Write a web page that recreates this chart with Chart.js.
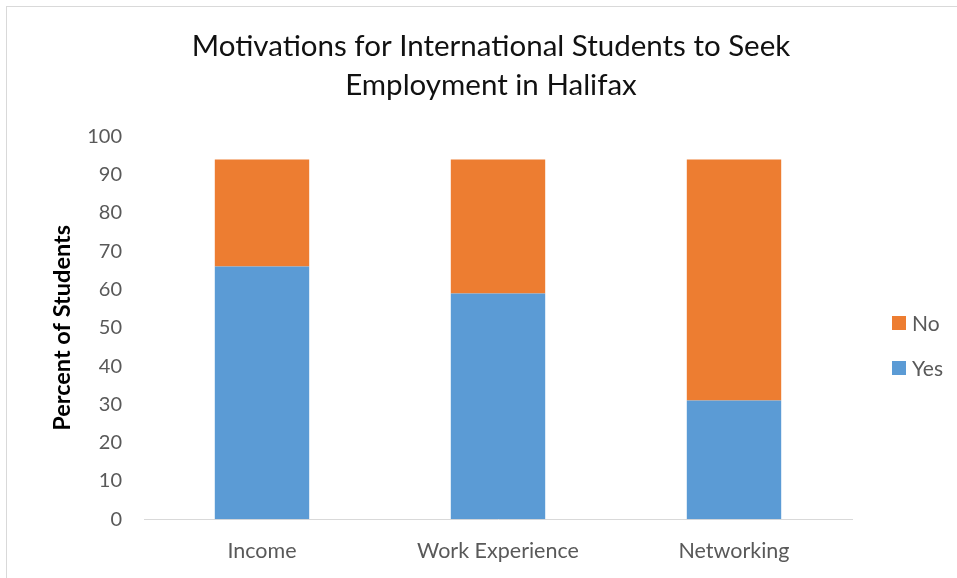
<!DOCTYPE html>
<html>
<head>
<meta charset="utf-8">
<script src="https://cdn.jsdelivr.net/npm/chart.js@4/dist/chart.umd.min.js"></script>
<style>
    html, body { margin: 0; padding: 0; background: #fff; overflow: hidden; }
    #wrap { position: relative; width: 957px; height: 578px; }
    /* outer chart frame, only its top and left edges fall inside the view */
    #frame {
        position: absolute; left: 6px; top: 6px;
        width: 1200px; height: 900px;
        border: 1px solid #d9d9d9;
    }
    #chart { position: absolute; left: 0; top: 0; }
</style>
</head>
<body>
<div id="wrap">
    <div id="frame"></div>
    <canvas id="chart" width="957" height="578"></canvas>
</div>
<script>
const categories = ['Income', 'Work Experience', 'Networking'];
const yesValues = [66, 59, 31];
const noValues = [28, 35, 63];
const titleLines = ['Motivations for International Students to Seek', 'Employment in Halifax'];

const FONT = 'Lato';
const TICK_COLOR = '#595959';

// legend drawn to the right of the plot, top entry first (No above Yes)
const sideLegend = {
    id: 'sideLegend',
    afterDraw(chart) {
        const { ctx, chartArea } = chart;
        const x = chartArea.right + 40;
        let y = 323;
        ctx.save();
        ctx.font = `21px ${FONT}`;
        ctx.textBaseline = 'middle';
        chart.data.datasets.slice().reverse().forEach(ds => {
            ctx.fillStyle = ds.backgroundColor;
            ctx.fillRect(x, y - 7, 14, 14);
            ctx.fillStyle = TICK_COLOR;
            ctx.fillText(ds.label, x + 20, y + 1);
            y += 45;
        });
        ctx.restore();
    }
};

const ctx = document.getElementById('chart').getContext('2d');
new Chart(ctx, {
    type: 'bar',
    data: {
        labels: categories,
        datasets: [
            {
                label: 'Yes',
                data: yesValues,
                backgroundColor: '#5b9bd5',
                borderWidth: 0,
                barPercentage: 0.4,
                categoryPercentage: 1
            },
            {
                label: 'No',
                data: noValues,
                backgroundColor: '#ed7d31',
                borderWidth: 0,
                barPercentage: 0.4,
                categoryPercentage: 1
            }
        ]
    },
    options: {
        responsive: false,
        animation: false,
        layout: {
            padding: { top: 0, left: 25, right: 0, bottom: -5 }
        },
        scales: {
            x: {
                stacked: true,
                grid: { display: false, drawTicks: false },
                border: { color: '#d9d9d9', width: 1 },
                ticks: {
                    color: TICK_COLOR,
                    padding: 19,
                    font: { family: FONT, size: 21.5 }
                }
            },
            y: {
                stacked: true,
                min: 0,
                max: 100,
                grid: { display: false, drawTicks: false },
                border: { display: false },
                ticks: {
                    stepSize: 10,
                    color: TICK_COLOR,
                    padding: 22,
                    font: { family: FONT, size: 20 }
                },
                title: {
                    display: true,
                    text: 'Percent of Students',
                    color: '#000',
                    padding: { top: 23, bottom: 0 },
                    font: { family: FONT, size: 23.5, weight: 'bold' }
                },
                afterFit(scale) {
                    scale.width = 119;
                }
            },
            // empty right-hand axis that keeps room for the legend
            side: {
                type: 'linear',
                position: 'right',
                grid: { display: false, drawTicks: false },
                border: { display: false },
                ticks: { display: false },
                afterFit(scale) {
                    scale.width = 105;
                }
            }
        },
        plugins: {
            legend: { display: false },
            tooltip: { enabled: false },
            title: {
                display: true,
                text: titleLines,
                color: '#111',
                padding: { top: 27, bottom: 31 },
                font: { family: FONT, size: 29.5, weight: 'normal', lineHeight: 1.33 }
            }
        }
    },
    plugins: [sideLegend]
});
</script>
</body>
</html>
